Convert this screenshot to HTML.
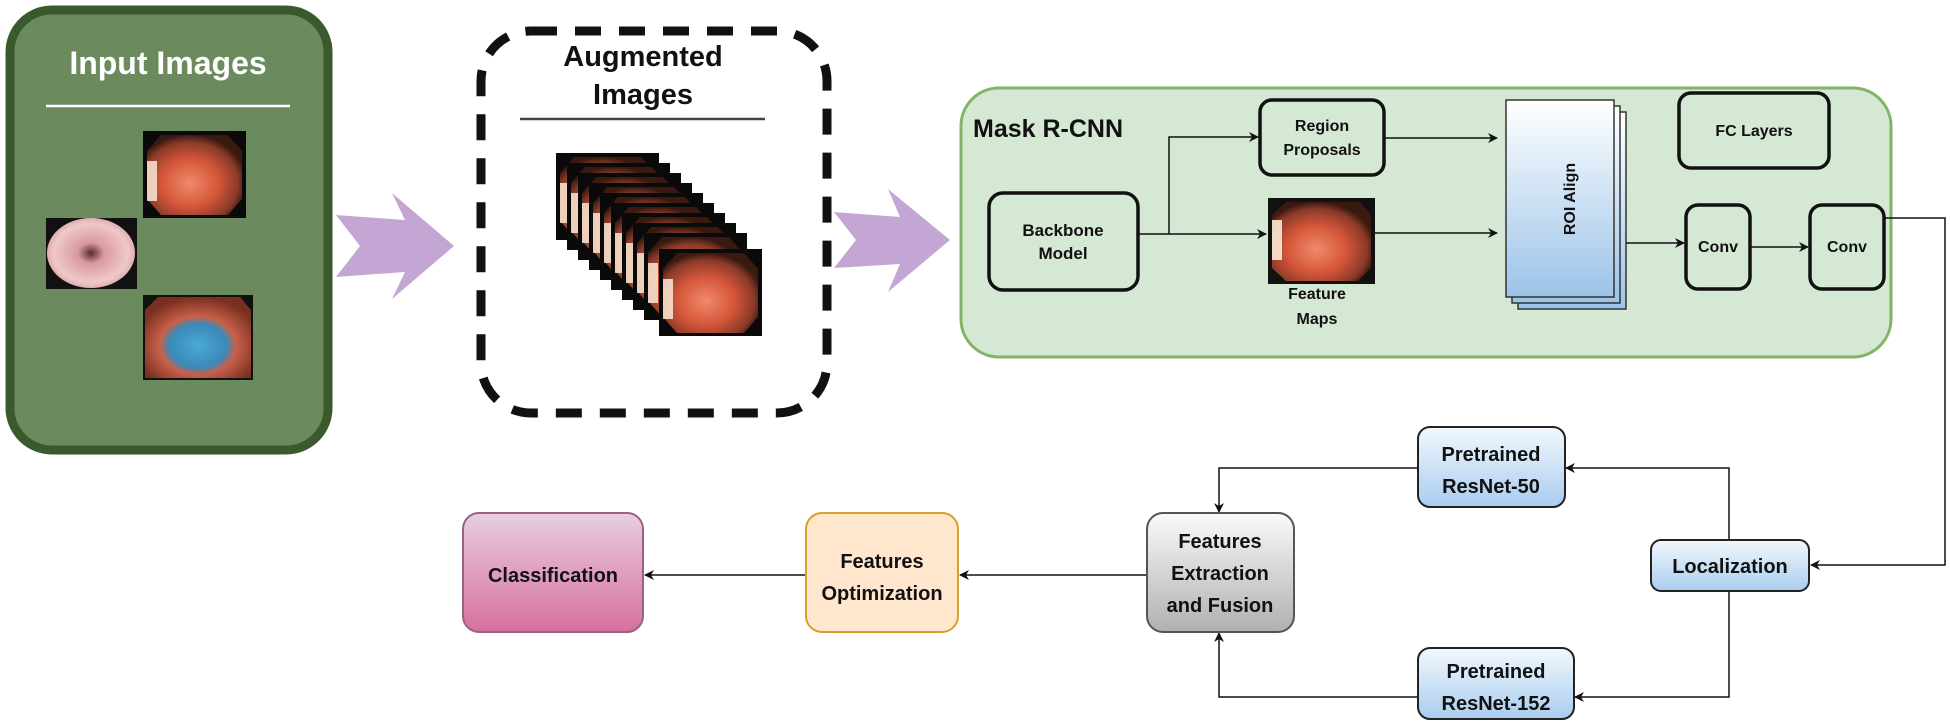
<!DOCTYPE html>
<html><head><meta charset="utf-8"><style>
html,body{margin:0;padding:0;background:#fff;width:1950px;height:725px;overflow:hidden}
svg text{font-family:"Liberation Sans",Arial,sans-serif;font-weight:bold;fill:#111;text-anchor:middle}
</style></head><body>
<svg width="1950" height="725" viewBox="0 0 1950 725" xmlns="http://www.w3.org/2000/svg">
<defs>
<radialGradient id="endo" cx="0.45" cy="0.6" r="0.6">
<stop offset="0" stop-color="#f08a6a"/><stop offset="0.5" stop-color="#d5563a"/><stop offset="0.85" stop-color="#8a3a28"/><stop offset="1" stop-color="#3a1a10"/></radialGradient>
<radialGradient id="endo2" cx="0.5" cy="0.5" r="0.6">
<stop offset="0" stop-color="#5a2a30"/><stop offset="0.25" stop-color="#d89aa0"/><stop offset="0.7" stop-color="#f0c8c8"/><stop offset="1" stop-color="#c89090"/></radialGradient>
<radialGradient id="endo3" cx="0.5" cy="0.6" r="0.6">
<stop offset="0" stop-color="#4aa8d8"/><stop offset="0.45" stop-color="#3a8ab8"/><stop offset="0.6" stop-color="#c8604a"/><stop offset="1" stop-color="#7a3020"/></radialGradient>
<linearGradient id="roi" x1="0" y1="0" x2="0" y2="1"><stop offset="0" stop-color="#ffffff"/><stop offset="1" stop-color="#9cc3e8"/></linearGradient>
<linearGradient id="blue" x1="0" y1="0" x2="0" y2="1"><stop offset="0" stop-color="#f2f8fd"/><stop offset="1" stop-color="#a9cdef"/></linearGradient>
<linearGradient id="gray" x1="0" y1="0" x2="0" y2="1"><stop offset="0" stop-color="#fafafa"/><stop offset="1" stop-color="#b0b0b0"/></linearGradient>
<linearGradient id="pink" x1="0" y1="0" x2="0" y2="1"><stop offset="0" stop-color="#e8cfe0"/><stop offset="1" stop-color="#d6709c"/></linearGradient>
<marker id="ar" markerWidth="10" markerHeight="10" refX="9" refY="5" orient="auto" markerUnits="userSpaceOnUse"><path d="M0,0 L10,5 L0,10 L3,5 Z" fill="#111"/></marker>
<g id="img1"><rect width="103" height="87" fill="#0a0a0a"/><polygon points="18,4 85,4 99,20 99,68 85,84 18,84 4,68 4,20" fill="url(#endo)"/><rect x="4" y="30" width="10" height="40" fill="#fff3e0" opacity="0.8"/></g>
</defs>

<!-- Input Images -->
<rect x="10" y="10" width="318" height="440" rx="42" fill="#6b8b5f" stroke="#3a5a2d" stroke-width="9"/>
<text x="168" y="74" font-size="32" style="fill:#fff">Input Images</text>
<line x1="46" y1="106" x2="290" y2="106" stroke="#fff" stroke-width="2.5"/>
<use href="#img1" x="143" y="131"/>
<rect x="46" y="218" width="91" height="71" fill="#111"/>
<ellipse cx="91" cy="253" rx="44" ry="35" fill="url(#endo2)"/>
<rect x="143" y="295" width="110" height="85" fill="#111"/>
<polygon points="158,297 240,297 251,310 251,378 145,378 145,310" fill="url(#endo3)"/>

<!-- arrow 1 -->
<polygon points="336,215 405,220 392,193 454,246 392,299 405,272 336,277 360,246" fill="#c3a6d4"/>

<!-- Augmented -->
<rect x="481" y="31" width="346" height="382" rx="50" fill="none" stroke="#111" stroke-width="9" stroke-dasharray="26,18"/>
<text x="643" y="66" font-size="29">Augmented</text>
<text x="643" y="104" font-size="29">Images</text>
<line x1="520" y1="119" x2="765" y2="119" stroke="#444" stroke-width="2.5"/>
<g>
<use href="#img1" x="556" y="153" transform="translate(0,0)"/>
<use href="#img1" x="567" y="163"/>
<use href="#img1" x="578" y="173"/>
<use href="#img1" x="589" y="183"/>
<use href="#img1" x="600" y="193"/>
<use href="#img1" x="611" y="203"/>
<use href="#img1" x="622" y="213"/>
<use href="#img1" x="633" y="223"/>
<use href="#img1" x="644" y="233"/>
<use href="#img1" x="659" y="249"/>
</g>

<!-- arrow 2 -->
<polygon points="834,212 900,217 888,189 950,240 888,292 900,264 834,268 856,240" fill="#c3a6d4"/>

<!-- Mask R-CNN -->
<rect x="961" y="88" width="930" height="269" rx="38" fill="#d5e8d4" stroke="#82b366" stroke-width="3"/>
<text x="973" y="137" font-size="25" style="text-anchor:start">Mask R-CNN</text>
<rect x="989" y="193" width="149" height="97" rx="14" fill="#d5e8d4" stroke="#111" stroke-width="3.5"/>
<text x="1063" y="236" font-size="17">Backbone</text>
<text x="1063" y="259" font-size="17">Model</text>
<rect x="1260" y="100" width="124" height="75" rx="12" fill="#d5e8d4" stroke="#111" stroke-width="3.5"/>
<text x="1322" y="131" font-size="16">Region</text>
<text x="1322" y="155" font-size="16">Proposals</text>
<rect x="1268" y="198" width="107" height="86" fill="#111"/>
<polygon points="1286,202 1360,202 1371,215 1371,268 1358,281 1286,281 1272,268 1272,215" fill="url(#endo)"/>
<rect x="1272" y="220" width="10" height="40" fill="#fff3e0" opacity="0.85"/>
<text x="1317" y="299" font-size="16">Feature</text>
<text x="1317" y="324" font-size="16">Maps</text>
<path d="M1138,234 H1169 V137 H1258" fill="none" stroke="#111" stroke-width="1.5" marker-end="url(#ar)"/>
<path d="M1169,234 H1266" fill="none" stroke="#111" stroke-width="1.5" marker-end="url(#ar)"/>
<path d="M1384,138 H1497" fill="none" stroke="#111" stroke-width="1.5" marker-end="url(#ar)"/>
<path d="M1375,233 H1497" fill="none" stroke="#111" stroke-width="1.5" marker-end="url(#ar)"/>
<rect x="1518" y="112" width="108" height="197" fill="url(#roi)" stroke="#333" stroke-width="1.5"/>
<rect x="1512" y="106" width="108" height="197" fill="url(#roi)" stroke="#333" stroke-width="1.5"/>
<rect x="1506" y="100" width="108" height="197" fill="url(#roi)" stroke="#333" stroke-width="1.5"/>
<text x="0" y="0" font-size="16" transform="translate(1575,199) rotate(-90)">ROI Align</text>
<rect x="1679" y="93" width="150" height="75" rx="12" fill="#d5e8d4" stroke="#111" stroke-width="3.5"/>
<text x="1754" y="136" font-size="16">FC Layers</text>
<rect x="1686" y="205" width="64" height="84" rx="12" fill="#d5e8d4" stroke="#111" stroke-width="3.5"/>
<text x="1718" y="252" font-size="16">Conv</text>
<rect x="1810" y="205" width="74" height="84" rx="12" fill="#d5e8d4" stroke="#111" stroke-width="3.5"/>
<text x="1847" y="252" font-size="16">Conv</text>
<path d="M1626,243 H1684" fill="none" stroke="#111" stroke-width="1.5" marker-end="url(#ar)"/>
<path d="M1750,247 H1808" fill="none" stroke="#111" stroke-width="1.5" marker-end="url(#ar)"/>

<!-- connectors lower -->
<path d="M1884,218 H1945 V565 H1811" fill="none" stroke="#111" stroke-width="1.5" marker-end="url(#ar)"/>
<path d="M1729,540 V468 H1566" fill="none" stroke="#111" stroke-width="1.5" marker-end="url(#ar)"/>
<path d="M1729,591 V697 H1575" fill="none" stroke="#111" stroke-width="1.5" marker-end="url(#ar)"/>
<path d="M1418,468 H1219 V512" fill="none" stroke="#111" stroke-width="1.5" marker-end="url(#ar)"/>
<path d="M1418,697 H1219 V633" fill="none" stroke="#111" stroke-width="1.5" marker-end="url(#ar)"/>
<path d="M1147,575 H960" fill="none" stroke="#111" stroke-width="1.5" marker-end="url(#ar)"/>
<path d="M806,575 H645" fill="none" stroke="#111" stroke-width="1.5" marker-end="url(#ar)"/>

<!-- lower boxes -->
<rect x="1418" y="427" width="147" height="80" rx="12" fill="url(#blue)" stroke="#222" stroke-width="2"/>
<text x="1491" y="461" font-size="20">Pretrained</text>
<text x="1491" y="493" font-size="20">ResNet-50</text>
<rect x="1418" y="648" width="156" height="71" rx="12" fill="url(#blue)" stroke="#222" stroke-width="2"/>
<text x="1496" y="678" font-size="20">Pretrained</text>
<text x="1496" y="710" font-size="20">ResNet-152</text>
<rect x="1651" y="540" width="158" height="51" rx="10" fill="url(#blue)" stroke="#222" stroke-width="2"/>
<text x="1730" y="573" font-size="20">Localization</text>
<rect x="1147" y="513" width="147" height="119" rx="16" fill="url(#gray)" stroke="#555" stroke-width="2"/>
<text x="1220" y="548" font-size="20">Features</text>
<text x="1220" y="580" font-size="20">Extraction</text>
<text x="1220" y="612" font-size="20">and Fusion</text>
<rect x="806" y="513" width="152" height="119" rx="16" fill="#ffe6cc" stroke="#d7a02a" stroke-width="2"/>
<text x="882" y="568" font-size="20">Features</text>
<text x="882" y="600" font-size="20">Optimization</text>
<rect x="463" y="513" width="180" height="119" rx="16" fill="url(#pink)" stroke="#996185" stroke-width="2"/>
<text x="553" y="582" font-size="20">Classification</text>
</svg>
</body></html>
